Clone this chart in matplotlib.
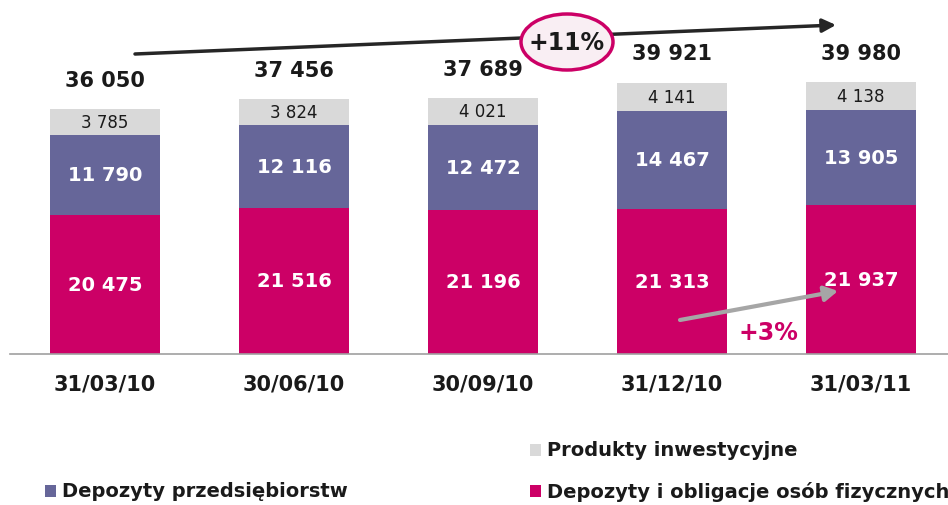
import matplotlib
matplotlib.use("Agg")
import matplotlib.pyplot as plt
from matplotlib.patches import Ellipse, Rectangle

categories = ["31/03/10", "30/06/10", "30/09/10", "31/12/10", "31/03/11"]
osob_fizycznych = [20475, 21516, 21196, 21313, 21937]
przedsiebiorstw = [11790, 12116, 12472, 14467, 13905]
inwestycyjne = [3785, 3824, 4021, 4141, 4138]
totals = [36050, 37456, 37689, 39921, 39980]

PINK = "#CC0066"
PURPLE = "#666699"
GREY = "#D9D9D9"

def fmt(v):
    return f"{v:,}".replace(",", " ")

W, H = 948, 506
fig = plt.figure(figsize=(W / 100, H / 100), dpi=100)
ax = fig.add_axes([10 / W, (H - 355) / H, (948 - 10) / W, 355 / H])
ax.set_xlim(-0.503, 4.46)
ax.set_ylim(0, 52230)
for s in ax.spines.values():
    s.set_visible(False)
ax.spines["bottom"].set_visible(True)
ax.spines["bottom"].set_color("#A0A0A0")
ax.spines["bottom"].set_linewidth(1.2)
ax.set_yticks([])
ax.set_xticks(range(len(categories)))
ax.set_xticklabels(categories, fontsize=15, fontweight="bold", color="#1a1a1a")
ax.tick_params(axis="x", length=0, pad=14)

x = list(range(len(categories)))
bw = 0.582
b1 = ax.bar(x, osob_fizycznych, width=bw, color=PINK)
bottom2 = osob_fizycznych
b2 = ax.bar(x, przedsiebiorstw, width=bw, bottom=bottom2, color=PURPLE)
bottom3 = [a + b for a, b in zip(osob_fizycznych, przedsiebiorstw)]
b3 = ax.bar(x, inwestycyjne, width=bw, bottom=bottom3, color=GREY)

for i in x:
    ax.text(i, osob_fizycznych[i] / 2, fmt(osob_fizycznych[i]), ha="center", va="center",
            color="white", fontsize=14, fontweight="bold")
    ax.text(i, osob_fizycznych[i] + przedsiebiorstw[i] / 2, fmt(przedsiebiorstw[i]),
            ha="center", va="center", color="white", fontsize=14, fontweight="bold")
    ax.text(i, bottom3[i] + inwestycyjne[i] / 2, fmt(inwestycyjne[i]), ha="center",
            va="center", color="#1a1a1a", fontsize=12)
    ax.text(i, totals[i] + 4300, fmt(totals[i]), ha="center", va="center",
            color="#1a1a1a", fontsize=15, fontweight="bold")

# growth arrow (black)
def fp(px, py):
    return (px, H - py)

ax.annotate("", xy=fp(836, 26), xytext=fp(135, 55), xycoords="figure pixels",
            textcoords="figure pixels",
            arrowprops=dict(arrowstyle="-|>,head_length=0.8,head_width=0.4",
                            color="#262626", lw=2.5, shrinkA=0, shrinkB=0))
ell = Ellipse((567 / W, (H - 43) / H), 92 / W, 56 / H, transform=fig.transFigure,
              facecolor="#F9EEF3", edgecolor=PINK, lw=2.5, zorder=5)
fig.patches.append(ell)
fig.text(567 / W, (H - 43) / H, "+11%", ha="center", va="center", fontsize=17,
         fontweight="bold", color="#1a1a1a", zorder=6)

# +3% arrow (grey)
ax.annotate("", xy=fp(838, 292), xytext=fp(680, 321), xycoords="figure pixels",
            textcoords="figure pixels",
            arrowprops=dict(arrowstyle="-|>,head_length=0.8,head_width=0.45",
                            color="#A6A6A6", lw=3, shrinkA=0, shrinkB=0), zorder=6)
fig.text(768 / W, (H - 333) / H, "+3%", ha="center", va="center", fontsize=17,
         fontweight="bold", color=PINK)

# legend
def leg(px, py, color, label):
    fig.patches.append(Rectangle((px / W, (H - py - 6) / H), 11 / W, 12 / H,
                                 transform=fig.transFigure, facecolor=color, edgecolor="none"))
    fig.text((px + 17) / W, (H - py) / H, label, ha="left", va="center", fontsize=14,
             fontweight="bold", color="#1a1a1a")

leg(530, 451, GREY, "Produkty inwestycyjne")
leg(45, 492, PURPLE, "Depozyty przedsiębiorstw")
leg(530, 492, PINK, "Depozyty i obligacje osób fizycznych")

fig.savefig("out.png", dpi=100)
